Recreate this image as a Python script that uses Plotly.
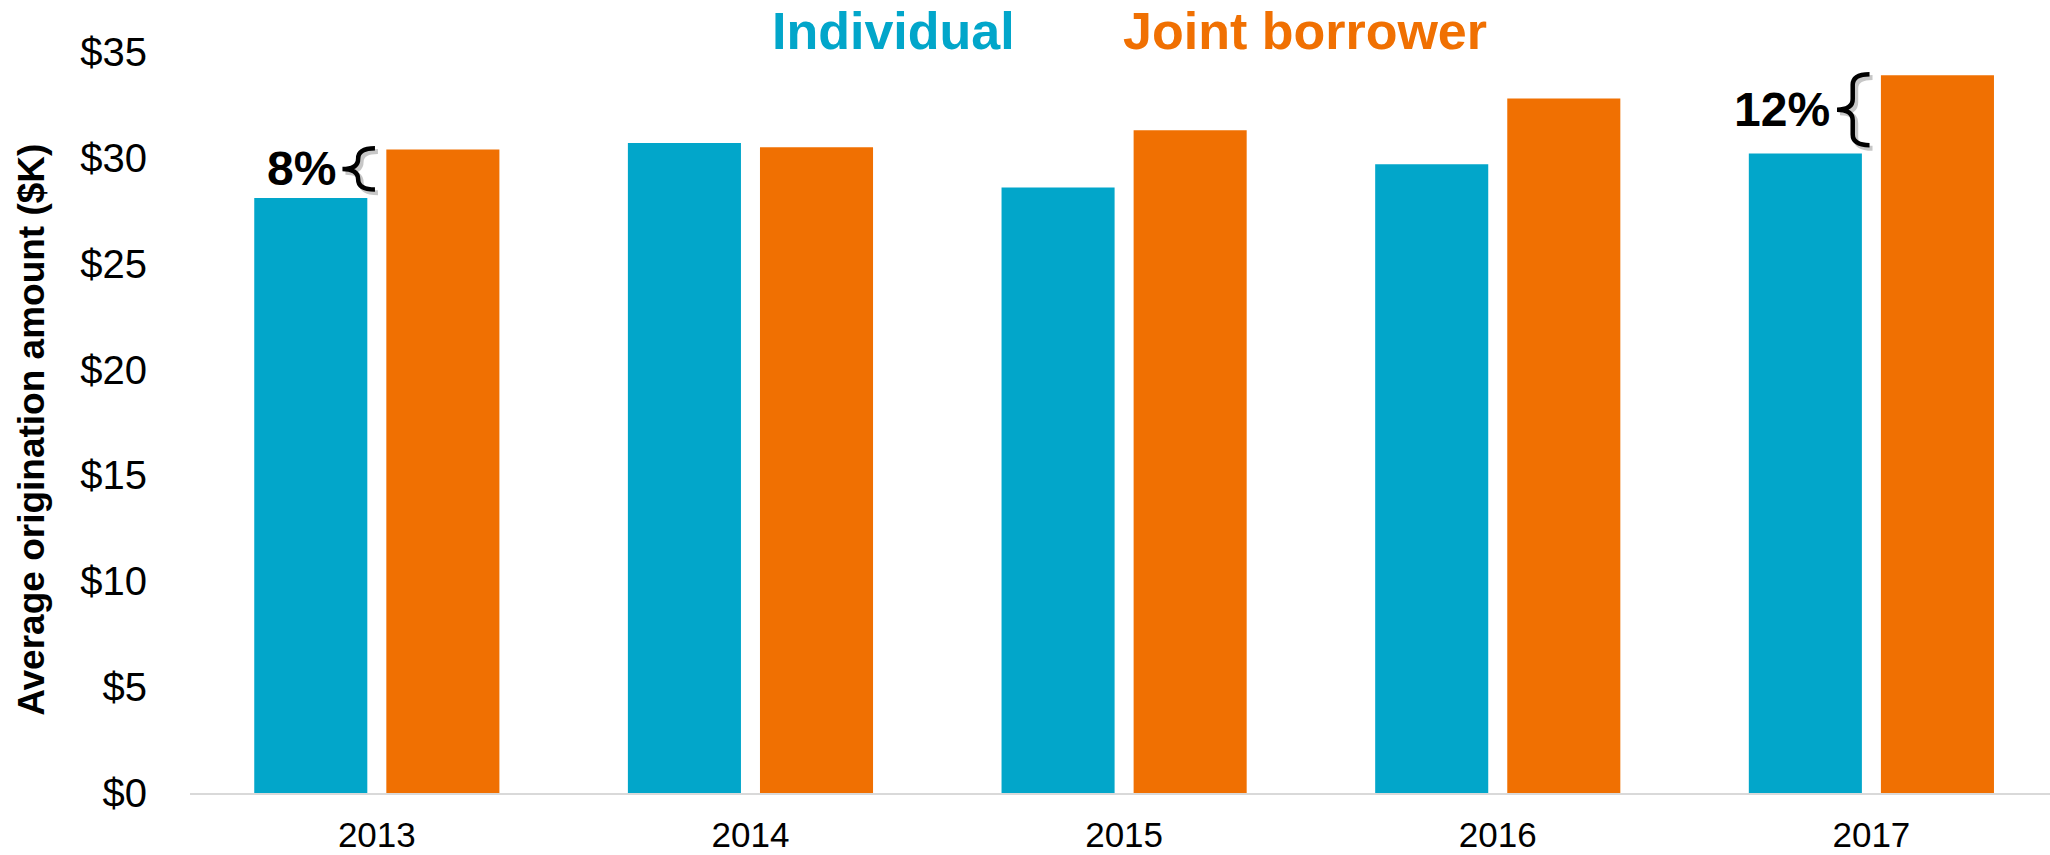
import plotly.graph_objects as go

# Average origination amount ($K) by year and borrower type
years = ["2013", "2014", "2015", "2016", "2017"]
individual = [28.1, 30.7, 28.6, 29.7, 30.2]
joint = [30.4, 30.5, 31.3, 32.8, 33.9]

y_tick_values = [0, 5, 10, 15, 20, 25, 30, 35]
y_tick_labels = ["$0", "$5", "$10", "$15", "$20", "$25", "$30", "$35"]

# Years where the joint-vs-individual gap is called out with a brace
gap_years = ["2013", "2017"]
gap_labels = ["8%", "12%"]

BLUE = "#02A6CA"
ORANGE = "#F07002"
FONT = "Liberation Sans, Arial, sans-serif"

x_pos = list(range(len(years)))

fig = go.Figure()
fig.add_bar(x=x_pos, y=individual, name="Individual", marker_color=BLUE,
            marker_line_width=0)
fig.add_bar(x=x_pos, y=joint, name="Joint borrower", marker_color=ORANGE,
            marker_line_width=0)


def brace_path(i, y_bot, y_top, dx=0.0, dy=0.0):
    """Left-pointing curly brace between y_bot and y_top, just left of category i."""
    xr = i - 0.005 + dx
    xs = i - 0.050 + dx
    xt = i - 0.092 + dx
    y_bot += dy
    y_top += dy
    ym = (y_bot + y_top) / 2
    r = min(0.5, (y_top - y_bot) / 4)
    return (f"M {xr},{y_top} Q {xs},{y_top} {xs},{y_top - r} "
            f"L {xs},{ym + r} Q {xs},{ym} {xt},{ym} "
            f"Q {xs},{ym} {xs},{ym - r} "
            f"L {xs},{y_bot + r} Q {xs},{y_bot} {xr},{y_bot}")


shapes = []
annotations = []
for yr, lab in zip(gap_years, gap_labels):
    i = years.index(yr)
    y_bot = individual[i] + 0.4
    y_top = joint[i] + 0.05
    # soft drop shadow, then the brace itself
    shapes.append(dict(type="path", xref="x", yref="y",
                       path=brace_path(i, y_bot, y_top, dx=0.008, dy=-0.15),
                       line=dict(color="rgba(0,0,0,0.22)", width=5)))
    shapes.append(dict(type="path", xref="x", yref="y",
                       path=brace_path(i, y_bot, y_top),
                       line=dict(color="black", width=4.5)))
    annotations.append(dict(x=i - 0.105, y=(y_bot + y_top) / 2, xref="x", yref="y",
                            text=f"<b>{lab}</b>", showarrow=False,
                            xanchor="right", yanchor="middle",
                            font=dict(family=FONT, size=48, color="black")))

# Coloured series names across the top
annotations.append(dict(x=0.378, y=1.028, xref="paper", yref="paper",
                        text="<b>Individual</b>", showarrow=False,
                        xanchor="center", yanchor="middle",
                        font=dict(family=FONT, size=52, color=BLUE)))
annotations.append(dict(x=0.5995, y=1.028, xref="paper", yref="paper",
                        text="<b>Joint borrower</b>", showarrow=False,
                        xanchor="center", yanchor="middle",
                        font=dict(family=FONT, size=52, color=ORANGE)))

# Y-axis title
annotations.append(dict(x=-0.085, y=0.49, xref="paper", yref="paper",
                        text="<b>Average origination amount ($K)</b>",
                        showarrow=False, textangle=-90,
                        xanchor="center", yanchor="middle",
                        font=dict(family=FONT, size=37, color="black")))

fig.update_layout(
    width=2050, height=855,
    margin=dict(l=190, r=0, t=52, b=62, pad=0, autoexpand=False),
    paper_bgcolor="white", plot_bgcolor="white",
    showlegend=False,
    barmode="group", bargap=0.293, bargroupgap=0.144,
    font=dict(family=FONT, color="black"),
    shapes=shapes, annotations=annotations,
    xaxis=dict(range=[-0.5, 4.478], tickmode="array", tickvals=x_pos,
               ticktext=years, tickfont=dict(family=FONT, size=35, color="black"),
               ticks="outside", ticklen=10, tickcolor="rgba(0,0,0,0)",
               showline=True, linecolor="#D9D9D9", linewidth=2,
               showgrid=False, zeroline=False, fixedrange=True, automargin=False),
    yaxis=dict(range=[0, 35], tickmode="array", tickvals=y_tick_values,
               ticktext=y_tick_labels, tickfont=dict(family=FONT, size=40, color="black"),
               ticks="outside", ticklen=34, tickcolor="rgba(0,0,0,0)",
               showline=False, showgrid=False, zeroline=False, fixedrange=True,
               automargin=False),
)

fig.write_html("out.html", config={"displayModeBar": False})
